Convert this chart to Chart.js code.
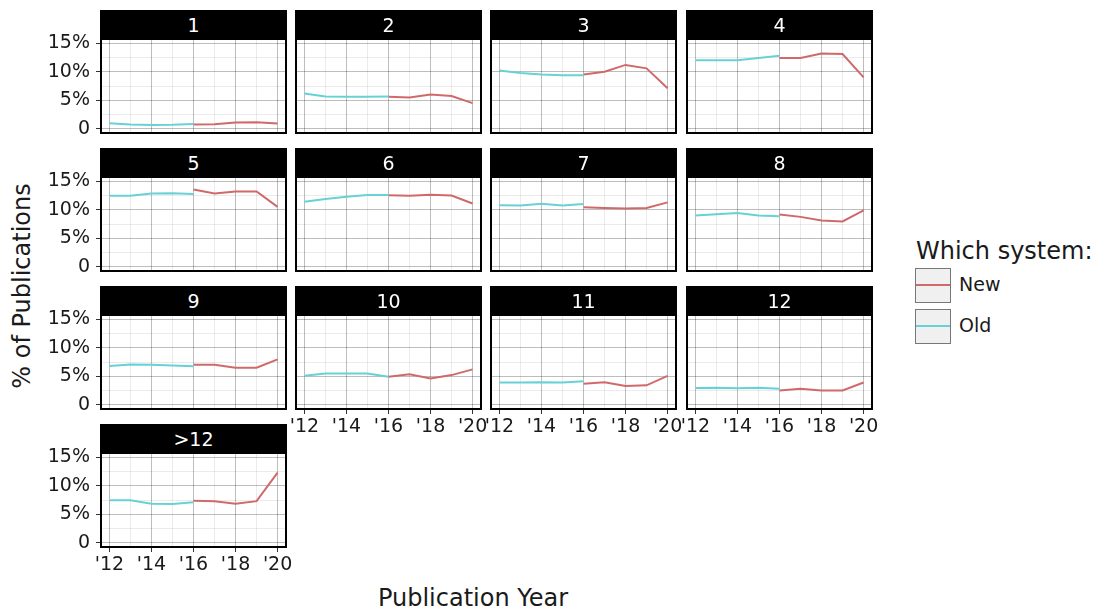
<!DOCTYPE html>
<html>
<head>
<meta charset="utf-8">
<script src="https://cdn.jsdelivr.net/npm/chart.js@4/dist/chart.umd.min.js"></script>
<style>
body { margin: 0; background: #fff; font-family: "DejaVu Sans", sans-serif; }
#page { position: relative; width: 1105px; height: 612px; overflow: hidden; }
.strip { position: absolute; background: #000; color: #fff; font-size: 19px; text-align: center; height: 29px; line-height: 30px; z-index: 2; }
.cv { position: absolute; }
.title { position: absolute; font-size: 24px; color: #1a1a1a; white-space: nowrap; }
.key { position: absolute; width: 34px; height: 33px; background: #f0f0f0; border: 1px solid #777; }
.key div { position: absolute; left: 0; right: 0; top: 15px; height: 2px; }
.lab { position: absolute; font-size: 19px; color: #1a1a1a; }
</style>
</head>
<body>
<div id="page">
  <div class="title" style="left:22px;top:286px;transform:translate(-50%,-50%) rotate(-90deg)">% of Publications</div>
  <div class="title" style="left:473px;top:598px;transform:translate(-50%,-50%)">Publication Year</div>
  <div class="title" style="left:916px;top:237px">Which system:</div>
  <div class="key" style="left:915px;top:268px"><div style="background:#d06a6a"></div></div>
  <div class="lab" style="left:959px;top:273px">New</div>
  <div class="key" style="left:915px;top:309px"><div style="background:#66d2d6"></div></div>
  <div class="lab" style="left:959px;top:314px">Old</div>
</div>
<script>
// facet labels
const panels = ['1', '2', '3', '4', '5', '6', '7', '8', '9', '10', '11', '12', '>12'];
const oldYears = [2012, 2013, 2014, 2015, 2016];
const newYears = [2016, 2017, 2018, 2019, 2020];
// % of publications, one row per panel
const oldShare = [
    [0.95, 0.75, 0.65, 0.7, 0.85],
    [6.2, 5.65, 5.6, 5.6, 5.65],
    [10.2, 9.8, 9.5, 9.4, 9.4],
    [12.0, 12.0, 12.0, 12.4, 12.8],
    [12.45, 12.45, 12.85, 12.9, 12.75],
    [11.4, 11.9, 12.3, 12.6, 12.6],
    [10.8, 10.75, 11.05, 10.75, 11.0],
    [9.0, 9.2, 9.45, 9.0, 8.85],
    [6.8, 7.05, 7.0, 6.9, 6.75],
    [5.1, 5.5, 5.5, 5.5, 4.9],
    [3.9, 3.9, 3.95, 3.9, 4.1],
    [2.95, 3.0, 2.9, 3.0, 2.8],
    [7.45, 7.45, 6.85, 6.8, 7.1]
];
const newShare = [
    [0.75, 0.8, 1.1, 1.15, 0.9],
    [5.6, 5.5, 6.0, 5.75, 4.5],
    [9.5, 10.0, 11.2, 10.6, 7.1],
    [12.4, 12.4, 13.2, 13.1, 9.0],
    [13.55, 12.85, 13.2, 13.2, 10.5],
    [12.55, 12.45, 12.65, 12.5, 11.1],
    [10.45, 10.3, 10.2, 10.3, 11.3],
    [9.15, 8.75, 8.1, 7.95, 9.9],
    [7.0, 7.0, 6.5, 6.5, 7.95],
    [4.9, 5.35, 4.6, 5.2, 6.2],
    [3.7, 3.95, 3.3, 3.4, 5.05],
    [2.5, 2.8, 2.5, 2.5, 3.9],
    [7.35, 7.3, 6.85, 7.3, 12.3]
];
const yTicks = [0, 2.5, 5, 7.5, 10, 12.5, 15];
const xTicks = [2012, 2013, 2014, 2015, 2016, 2017, 2018, 2019, 2020];

const colLeft = [101, 296, 491, 687];
const rowTop = [10, 148, 286, 424];
const PW = 185, PH = 94, STRIP = 29;
const YW = 70, XH = 40, PADT = 30, PADR = 24;

// black border round each panel
const frame = {
    id: 'frame',
    afterDatasetsDraw(c) {
        const a = c.chartArea, g = c.ctx;
        g.save();
        g.strokeStyle = '#000';
        g.lineWidth = 2;
        g.strokeRect(a.left, a.top, a.right - a.left, a.bottom - a.top);
        g.restore();
    }
};

const page = document.getElementById('page');
const font = { family: 'DejaVu Sans', size: 19 };

panels.forEach((name, i) => {
    const col = i % 4, row = Math.floor(i / 4);
    const showY = col === 0;
    const showX = row === 3 || (row === 2 && col > 0);
    const top = rowTop[row];

    const strip = document.createElement('div');
    strip.className = 'strip';
    strip.style.left = (colLeft[col] - 1) + 'px';
    strip.style.top = top + 'px';
    strip.style.width = (PW + 2) + 'px';
    strip.textContent = name;
    page.appendChild(strip);

    const cv = document.createElement('canvas');
    cv.className = 'cv';
    cv.width = PW + YW + PADR;
    cv.height = PH + PADT + XH;
    cv.style.left = (colLeft[col] - YW) + 'px';
    cv.style.top = (top + STRIP - PADT) + 'px';
    page.appendChild(cv);

    new Chart(cv, {
        type: 'line',
        data: {
            datasets: [
                {
                    label: 'Old',
                    data: oldYears.map((x, j) => ({ x: x, y: oldShare[i][j] })),
                    borderColor: '#66d2d6',
                    borderWidth: 2,
                    pointRadius: 0,
                    tension: 0
                },
                {
                    label: 'New',
                    data: newYears.map((x, j) => ({ x: x, y: newShare[i][j] })),
                    borderColor: '#d06a6a',
                    borderWidth: 2,
                    pointRadius: 0,
                    tension: 0
                }
            ]
        },
        options: {
            responsive: false,
            animation: false,
            events: [],
            layout: { padding: { top: PADT, right: PADR, left: 0, bottom: 0 } },
            plugins: { legend: { display: false }, tooltip: { enabled: false } },
            scales: {
                x: {
                    type: 'linear',
                    min: 2011.6,
                    max: 2020.4,
                    afterBuildTicks: s => { s.ticks = xTicks.map(v => ({ value: v })); },
                    afterFit: s => { s.height = XH; },
                    border: { display: false },
                    grid: {
                        color: c => c.tick.value % 2 === 0 ? 'rgba(0,0,0,0.26)' : 'rgba(0,0,0,0.08)',
                        drawTicks: showX,
                        tickLength: 5,
                        tickColor: c => c.tick.value % 2 === 0 ? '#333' : 'rgba(0,0,0,0)'
                    },
                    ticks: {
                        display: showX,
                        autoSkip: false,
                        maxRotation: 0,
                        padding: 2,
                        color: '#1a1a1a',
                        font: font,
                        callback: v => v % 2 === 0 ? "'" + String(v).slice(2) : ''
                    }
                },
                y: {
                    min: -0.75,
                    max: 15.75,
                    afterBuildTicks: s => { s.ticks = yTicks.map(v => ({ value: v })); },
                    afterFit: s => { s.width = YW; },
                    border: { display: false },
                    grid: {
                        color: c => c.tick.value % 5 === 0 ? 'rgba(0,0,0,0.26)' : 'rgba(0,0,0,0.08)',
                        drawTicks: showY,
                        tickLength: 5,
                        tickColor: c => c.tick.value % 5 === 0 ? '#333' : 'rgba(0,0,0,0)'
                    },
                    ticks: {
                        display: showY,
                        autoSkip: false,
                        padding: 6,
                        color: '#1a1a1a',
                        font: font,
                        callback: v => v % 5 !== 0 ? '' : (v === 0 ? '0' : v + '%')
                    }
                }
            }
        },
        plugins: [frame]
    });
});
</script>
</body>
</html>
